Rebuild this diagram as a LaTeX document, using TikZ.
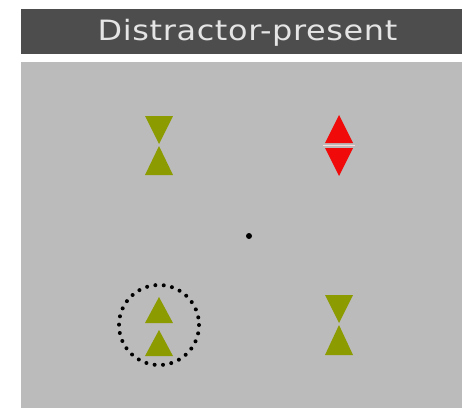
\documentclass[tikz,border=0pt]{standalone}
\usepackage{fontspec}
\newfontfamily\titlefont[LetterSpace=2]{DejaVu Sans}
\definecolor{panelgray}{RGB}{187,187,187}
\definecolor{bardark}{RGB}{77,77,77}
\definecolor{olive}{RGB}{140,155,0}
\definecolor{stimred}{RGB}{240,10,10}
\begin{document}
\begin{tikzpicture}[x=1pt,y=-1pt,
  tri/.style={fill=olive},
  redtri/.style={fill=stimred},
  cue/.style={draw=black,line width=4pt,line cap=round,dash pattern=on 0pt off 8.4pt}]
\useasboundingbox (0,0) rectangle (462,410);
% header bar and display panel
\fill[white] (0,0) rectangle (462,410);
\fill[bardark] (21,9) rectangle (462,54);
\node[anchor=base,inner sep=0pt,text=white!90!black,font=\titlefont\fontsize{28}{30}\selectfont] (title) at (247.5,40) {\scalebox{1.14}[1]{Distractor-present}};
\fill[panelgray] (21,62) rectangle (462,408);
% top left: hourglass
\fill[tri] (145,116) -- (173,116) -- (159,144) -- cycle;
\fill[tri] (145,175) -- (173,175) -- (159,146) -- cycle;
% top right: red distractor
\fill[redtri] (325,143) -- (353,143) -- (339,115) -- cycle;
\fill[redtri] (325,148) -- (353,148) -- (339,176) -- cycle;
\draw[white!85!stimred,line width=1.4pt] (323,145.5) -- (355,145.5);
% fixation dot
\fill[black] (249,236) circle (3);
% bottom left: target with cue
\fill[tri] (145,323) -- (173,323) -- (159,297) -- cycle;
\fill[tri] (145,356) -- (173,356) -- (159,330) -- cycle;
\draw[cue] (159,325) circle (40);
% bottom right: hourglass
\fill[tri] (325,295) -- (353,295) -- (339,323) -- cycle;
\fill[tri] (325,355) -- (353,355) -- (339,325) -- cycle;
\end{tikzpicture}
\end{document}
